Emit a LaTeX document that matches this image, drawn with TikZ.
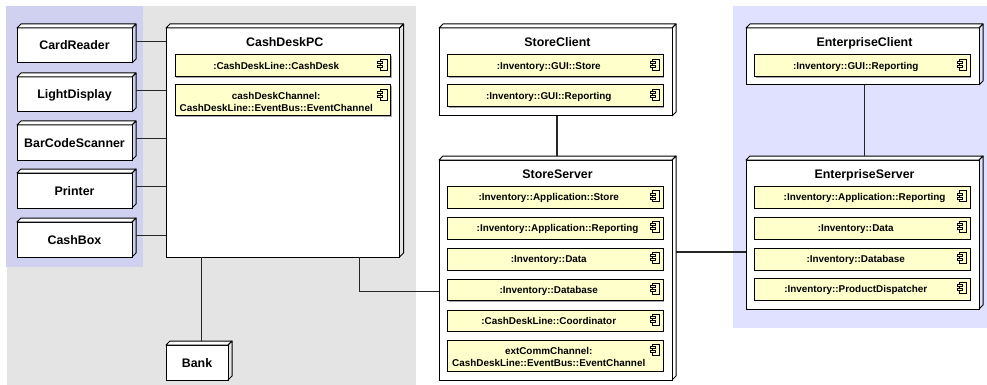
\documentclass[tikz,border=0pt]{standalone}
\usepackage{fontspec}
\setmainfont{Liberation Sans}
\usetikzlibrary{calc}
\definecolor{zonegray}{HTML}{E4E4E4}
\definecolor{zonelav}{HTML}{D0D0F0}
\definecolor{zoneblue}{HTML}{E0E0FF}
\definecolor{compyellow}{HTML}{FFFFCC}
\definecolor{compshadow}{HTML}{A8A8A8}
\tikzset{
  x=1pt,y=-1pt,
  every node/.style={outer sep=0pt,inner sep=0pt},
  devbox/.style={draw=black,fill=white,line width=1pt,anchor=north west,text height=9pt,text depth=0pt,font=\fontsize{12.4}{14}\selectfont\bfseries},
  devface/.style={draw=black,line width=1pt,line join=round},
  devtop/.style={devface,fill=white},
  devtitle/.style={font=\fontsize{12.4}{14}\selectfont\bfseries,anchor=base},
  compbox/.style={draw=black,fill=compyellow,line width=1pt,anchor=north west},
  comptext/.style={font=\fontsize{9.9}{12}\selectfont\bfseries,align=center},
  oneline/.style={text height=7.2pt,text depth=0pt},
  twoline/.style={yshift=-1.7pt},
  wideline/.style={oneline,xshift=8.8pt},
  conn/.style={draw=black!85,line width=1.1pt},
  iconstyle/.style={draw=black,fill=compyellow,line width=.8pt},
}
% device node: name, x1, y1, x2, y2, text
\newcommand{\devnode}[6]{%
  \pgfmathsetmacro{\dw}{#4-#2}\pgfmathsetmacro{\dh}{#5-#3}%
  \node[devbox,minimum width=\dw pt,minimum height=\dh pt] (#1) at (#2,#3) {#6};
  \draw[devtop] (#1.north west) -- ++(4,-4) -- ($(#1.north east)+(4,-4)$) -- (#1.north east) -- cycle;
  \draw[devface] (#1.north east) -- ++(4,-4) -- ($(#1.south east)+(4,-4)$) -- (#1.south east);
}
% component: [text style], name, x1, y1, x2, y2, text
\newcommand{\compnode}[7][oneline]{%
  \pgfmathsetmacro{\dw}{#5-#3}\pgfmathsetmacro{\dh}{#6-#4}%
  \fill[compshadow] (#3+1,#4+1) rectangle (#5+1,#6+1);
  \node[compbox,minimum width=\dw pt,minimum height=\dh pt] (#2) at (#3,#4) {};
  \node[comptext,#1] (#2-t) at ([xshift=-6.5pt]#2.center) {#7};
  \draw[iconstyle] ($(#2.north east)+(-10.5,4)$) rectangle ($(#2.north east)+(-3.5,15)$);
  \draw[iconstyle] ($(#2.north east)+(-13,6.5)$) rectangle ($(#2.north east)+(-8,8.5)$);
  \draw[iconstyle] ($(#2.north east)+(-13,10.5)$) rectangle ($(#2.north east)+(-8,12.5)$);
}
\begin{document}
\begin{tikzpicture}
\useasboundingbox (0,0) rectangle (987,385);
\fill[zonegray] (7,6) rectangle (416,385);
\fill[zonelav] (6,6) rectangle (143,267);
\fill[zoneblue] (733,6) rectangle (987,328);

\devnode{cardreader}{17}{28}{132}{63}{CardReader}
\devnode{lightdisplay}{17}{77}{132}{112}{LightDisplay}
\devnode{barcode}{17}{125}{132}{160}{BarCodeScanner}
\devnode{printer}{17}{173}{132}{208}{Printer}
\devnode{cashbox}{17}{222}{132}{257}{CashBox}
\devnode{bank}{166}{345}{228}{380}{Bank}

\devnode{cashdeskpc}{166}{28}{399.5}{257}{}
\node[devtitle] (cashdeskpc-t) at ([shift={(2,18.5)}]cashdeskpc.north) {CashDeskPC};
\compnode{cd1}{175}{55}{390.5}{77}{:CashDeskLine::CashDesk}
\compnode[twoline]{cd2}{175}{85}{390.5}{116}{cashDeskChannel:\\CashDeskLine::EventBus::EventChannel}

\devnode{storeclient}{439}{28}{672}{116}{}
\node[devtitle] (storeclient-t) at ([shift={(2,18.5)}]storeclient.north) {StoreClient};
\compnode{sc1}{447.5}{55}{663}{77}{:Inventory::GUI::Store}
\compnode{sc2}{447.5}{85}{663}{107}{:Inventory::GUI::Reporting}

\devnode{storeserver}{439}{160}{672}{380}{}
\node[devtitle] (storeserver-t) at ([shift={(2,18.5)}]storeserver.north) {StoreServer};
\compnode{ss1}{447.5}{186.5}{663}{208}{:Inventory::Application::Store}
\compnode[wideline]{ss2}{447.5}{217}{663}{239}{:Inventory::Application::Reporting}
\compnode{ss3}{447.5}{248}{663}{270}{:Inventory::Data}
\compnode{ss4}{447.5}{279}{663}{300.5}{:Inventory::Database}
\compnode{ss5}{447.5}{310}{663}{331}{:CashDeskLine::Coordinator}
\compnode[twoline]{ss6}{447.5}{340}{663}{371}{extCommChannel:\\CashDeskLine::EventBus::EventChannel}

\devnode{entclient}{746}{28}{979}{85}{}
\node[devtitle] (entclient-t) at ([shift={(2,18.5)}]entclient.north) {EnterpriseClient};
\compnode{ec1}{754.5}{55}{970}{77}{:Inventory::GUI::Reporting}

\devnode{entserver}{746}{160}{979}{309}{}
\node[devtitle] (entserver-t) at ([shift={(2,18.5)}]entserver.north) {EnterpriseServer};
\compnode[wideline]{es1}{754.5}{186.5}{970}{208}{:Inventory::Application::Reporting}
\compnode{es2}{754.5}{217}{970}{239}{:Inventory::Data}
\compnode{es3}{754.5}{248}{970}{270}{:Inventory::Database}
\compnode{es4}{754.5}{278}{970}{300}{:Inventory::ProductDispatcher}

% connectors
\draw[conn] ([shift={(4,-4)}]cardreader.east) -- ([yshift=4pt]cardreader.east -| cashdeskpc.west);
\draw[conn] ([shift={(4,-4)}]lightdisplay.east) -- ([yshift=4pt]lightdisplay.east -| cashdeskpc.west);
\draw[conn] ([shift={(4,-4)}]barcode.east) -- ([yshift=4pt]barcode.east -| cashdeskpc.west);
\draw[conn] ([shift={(4,-4)}]printer.east) -- ([yshift=4pt]printer.east -| cashdeskpc.west);
\draw[conn] ([shift={(4,-4)}]cashbox.east) -- ([yshift=4pt]cashbox.east -| cashdeskpc.west);
\draw[conn] ([shift={(4.5,-4)}]bank.north) -- ([xshift=4.5pt]bank.north |- cashdeskpc.south);
\draw[conn] ([xshift=76.75pt]cashdeskpc.south) |- ([yshift=-21.5pt]storeserver.west);
\draw[conn] ([xshift=1.5pt]storeclient.south) -- ([shift={(1.5,-4)}]storeserver.north);
\draw[conn] ([shift={(4,-18)}]storeserver.east) -- ([yshift=18pt]storeserver.east -| entserver.west);
\draw[conn] ([xshift=2pt]entclient.south) -- ([shift={(2,-4)}]entserver.north);
\end{tikzpicture}
\end{document}
